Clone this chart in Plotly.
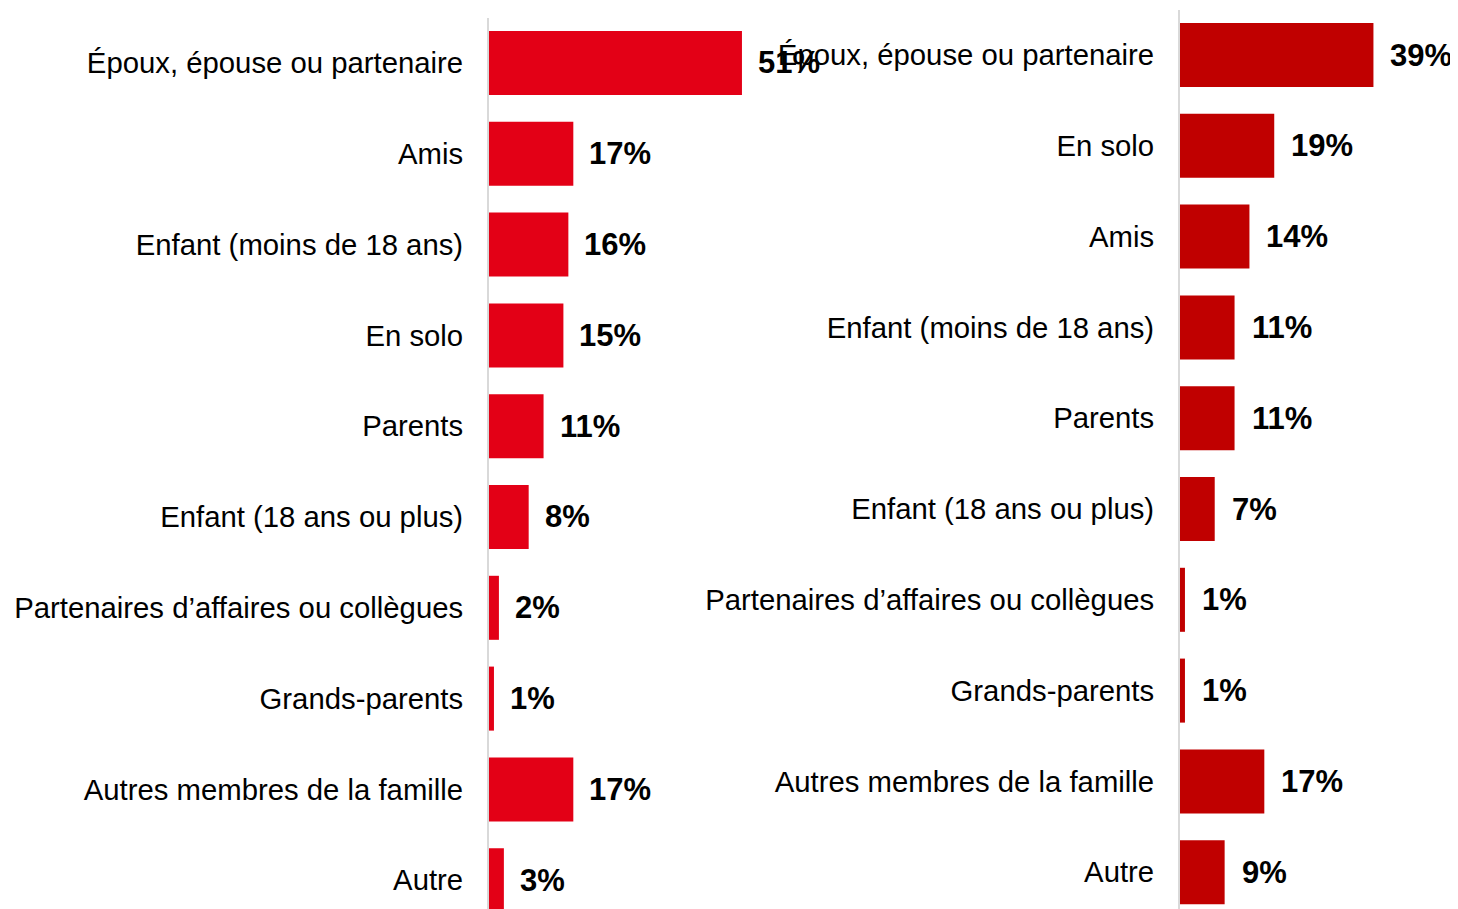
import plotly.graph_objects as go

W, H = 1458, 909

left_categories = [
    "Époux, épouse ou partenaire",
    "Amis",
    "Enfant (moins de 18 ans)",
    "En solo",
    "Parents",
    "Enfant (18 ans ou plus)",
    "Partenaires d’affaires ou collègues",
    "Grands-parents",
    "Autres membres de la famille",
    "Autre",
]
left_values = [51, 17, 16, 15, 11, 8, 2, 1, 17, 3]

right_categories = [
    "Époux, épouse ou partenaire",
    "En solo",
    "Amis",
    "Enfant (moins de 18 ans)",
    "Parents",
    "Enfant (18 ans ou plus)",
    "Partenaires d’affaires ou collègues",
    "Grands-parents",
    "Autres membres de la famille",
    "Autre",
]
right_values = [39, 19, 14, 11, 11, 7, 1, 1, 17, 9]

LEFT_COLOR = "#E30016"
RIGHT_COLOR = "#C00000"
FONT = "Liberation Sans, Arial, sans-serif"

fig = go.Figure()

fig.add_trace(go.Bar(
    x=left_values, y=left_categories, orientation="h",
    marker=dict(color=LEFT_COLOR, line=dict(width=0)),
    xaxis="x", yaxis="y", hoverinfo="skip",
))
fig.add_trace(go.Bar(
    x=right_values, y=right_categories, orientation="h",
    marker=dict(color=RIGHT_COLOR, line=dict(width=0)),
    xaxis="x2", yaxis="y2", hoverinfo="skip",
))

annotations = []
for c, v in zip(left_categories, left_values):
    annotations.append(dict(
        x=v, y=c, xref="x", yref="y", text=f"<b>{v}%</b>",
        showarrow=False, xanchor="left", yanchor="middle", xshift=14,
        font=dict(family=FONT, size=31, color="black"),
    ))
for c, v in zip(right_categories, right_values):
    annotations.append(dict(
        x=v, y=c, xref="x2", yref="y2", text=f"<b>{v}%</b>",
        showarrow=False, xanchor="left", yanchor="middle", xshift=15,
        font=dict(family=FONT, size=31, color="black"),
    ))

OFF = 8  # page body margin
PX_PER_PCT = 4.96
SLOT = 90.8

l_x0 = 489 - OFF
l_range = 60
r_x0 = 1180 - OFF
r_range = 50

l_top = 17.6 - OFF
r_top = 9.6 - OFF
l_units = (H - l_top) / SLOT
r_units = (H - r_top) / SLOT

axis_common = dict(
    showgrid=False, zeroline=False, showticklabels=False, fixedrange=True,
)
yaxis_common = dict(
    type="category", showgrid=False, zeroline=False,
    showline=True, linecolor="#D9D9D9", linewidth=2,
    ticks="outside", ticklen=18, tickcolor="rgba(0,0,0,0)",
    tickfont=dict(family=FONT, size=29.3, color="black"),
)

fig.update_layout(
    width=W, height=H,
    margin=dict(l=0, r=0, t=0, b=0),
    paper_bgcolor="white", plot_bgcolor="white",
    showlegend=False,
    bargap=0.295,
    font=dict(family=FONT, color="black"),
    xaxis=dict(domain=[l_x0 / W, (l_x0 + PX_PER_PCT * l_range) / W],
               range=[0, l_range], anchor="y", **axis_common),
    yaxis=dict(domain=[0, (H - l_top) / H],
               range=[-0.5 + l_units, -0.5], anchor="x", **yaxis_common),
    xaxis2=dict(domain=[r_x0 / W, (r_x0 + PX_PER_PCT * r_range) / W],
                range=[0, r_range], anchor="y2", **axis_common),
    yaxis2=dict(domain=[0, (H - r_top) / H],
                range=[-0.5 + r_units, -0.5], anchor="x2", **yaxis_common),
    annotations=annotations,
)

fig.write_html("out.html")
